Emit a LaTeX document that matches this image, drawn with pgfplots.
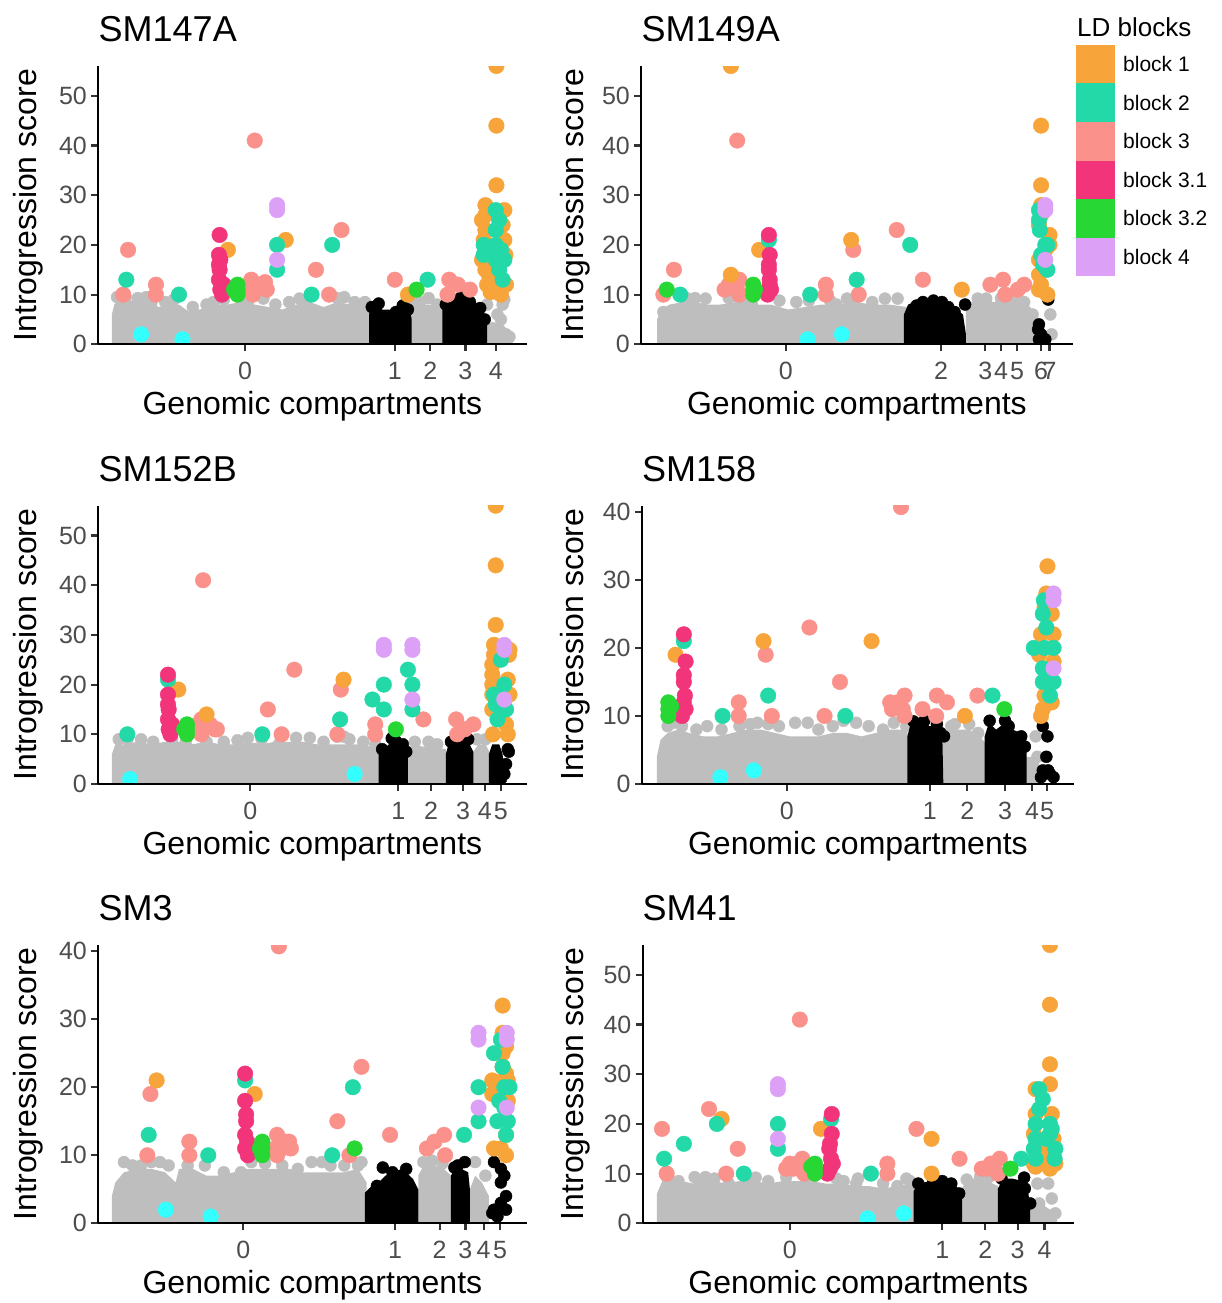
\documentclass[border=0pt]{standalone}
\usepackage{fontspec}
\setmainfont{Liberation Sans}
\usepackage{pgfplots}
\pgfplotsset{compat=1.18}

\definecolor{cB1}{RGB}{247,164,58}
\definecolor{cB2}{RGB}{36,217,168}
\definecolor{cB3}{RGB}{250,145,138}
\definecolor{cB31}{RGB}{242,52,123}
\definecolor{cB32}{RGB}{39,216,53}
\definecolor{cB4}{RGB}{221,160,247}
\definecolor{cCy}{RGB}{51,255,255}
\definecolor{cGray}{RGB}{190,190,190}
\definecolor{tickgray}{RGB}{77,77,77}

\newcommand\tickfont{\fontsize{25}{30}\selectfont}
\newcommand\labfont{\fontsize{32}{38}\selectfont}
\newcommand\titfont{\fontsize{36}{42}\selectfont}
\newcommand\legfont{\fontsize{21}{25}\selectfont}
\newcommand\legtfont{\fontsize{26}{30}\selectfont}

\pgfplotsset{
  panel/.style={scale only axis, anchor=south west, height=278.3pt, ymin=0,
    axis x line=bottom, axis y line=left, axis line style={-, line width=2.2pt, black},
    tick align=outside, major tick length=7pt,
    tick style={line width=2.2pt, color=black!80},
    ticklabel style={font=\tickfont, text=tickgray},
    xticklabel style={inner sep=0pt, yshift=-11pt},
    yticklabel style={inner sep=0pt, xshift=-4pt},
    /pgf/number format/assume math mode=true,
    axis on top, clip=true, clip marker paths=true},
  b1/.style={only marks, mark=*, mark size=7.8pt, color=cB1},
  b2/.style={only marks, mark=*, mark size=7.8pt, color=cB2},
  b3/.style={only marks, mark=*, mark size=7.8pt, color=cB3},
  b31/.style={only marks, mark=*, mark size=7.8pt, color=cB31},
  b32/.style={only marks, mark=*, mark size=7.8pt, color=cB32},
  b4/.style={only marks, mark=*, mark size=7.8pt, color=cB4},
  cy/.style={only marks, mark=*, mark size=7.8pt, color=cCy},
  gpt/.style={only marks, mark=*, mark size=6pt, color=cGray},
  kpt/.style={only marks, mark=*, mark size=6pt, color=black},
  garea/.style={draw=none, fill=cGray, mark=none},
  karea/.style={draw=none, fill=black, mark=none},
}

\begin{document}
\begin{tikzpicture}
\useasboundingbox (0pt,0pt) rectangle (1221pt,-1303pt);

% ---------------- SM147A ----------------
\begin{axis}[panel, at={(98.1pt,-344.3pt)}, width=428.6pt,
  xmin=285, xmax=1530, ymax=56, ytick={0,10,20,30,40,50},
  xtick={712,1147,1250,1352,1440}, xticklabels={0,1,2,3,4}]
\addplot[garea] coordinates {(325,0)(325,6)(332,8)(345,9)(370,9)(400,8.5)(430,9)(460,7.5)(490,8)(520,8)(550,6.5)(580,7)(620,8)(660,8)(700,8.5)(740,8)(780,7.5)(820,7)(860,8)(900,8.5)(940,7.5)(980,8.5)(1020,8)(1060,8)(1078,7)(1078,0)} -- cycle;
\addplot[garea] coordinates {(1190,0)(1190,6)(1200,8)(1230,8)(1260,8)(1292,7)(1292,0)} -- cycle;
\addplot[garea] coordinates {(1390,0)(1390,2)(1400,3.5)(1430,4.5)(1460,4)(1480,2.5)(1490,1)(1490,0)} -- cycle;
\addplot[gpt] coordinates {(340,9.5)(365,9.5)(400,9.3)(425,9.5)(440,8.5)(480,8.5)(505,9)(560,7.5)(600,8)(620,8.5)(650,9)(700,9)(720,8.5)(765,9.2)(800,8)(840,8.5)(870,9.2)(885,8.5)(950,6)(980,9.3)(1000,9.5)(1030,8.5)(1060,8.5)(1200,8)(1220,8.5)(1245,9.3)(1270,8)(1415,8)(1460,8)(1465,9)(1445,6)(1470,2)(1480,1.5)(1455,5)};
\addplot[karea] coordinates {(1072,0)(1072,6)(1080,7.5)(1095,8)(1110,7)(1130,7)(1150,6.5)(1170,7)(1190,7)(1196,5)(1196,0)} -- cycle;
\addplot[karea] coordinates {(1285,0)(1285,7)(1295,8.5)(1310,9)(1330,9)(1350,8.8)(1370,9)(1390,8)(1405,6.5)(1415,4)(1415,0)} -- cycle;
\addplot[kpt] coordinates {(1080,7.5)(1100,8.2)(1170,7.8)(1185,7)(1150,6.5)(1310,9.3)(1340,9.5)(1365,8.5)(1395,7.3)(1408,5)(1295,8)};
\addplot[b3] coordinates {(372,19)(358,10)(453,12)(453,10)(740,41)(918,15)(992,23)(956,10)(1147,13)(1305,13)(1300,10)(1330,12)(1365,11)(730,13)(732,11)(735,10)(760,12)(775,11)(748,12)(770,12.5)};
\addplot[b1] coordinates {(662,19)(830,21)(1185,10)(1442,56)(1442,44)(1442,32)(1410,28)(1410,26)(1400,25)(1410,23)(1405,21)(1410,19)(1400,17)(1410,15)(1415,12)(1425,10.5)(1465,27)(1465,21)(1468,18)(1470,12)(1455,10)(1440,11)(1430,13)(1420,14)(1460,24)};
\addplot[b2] coordinates {(367,13)(520,10)(805,20)(805,15)(965,20)(905,10)(1242,13)(1405,20)(1405,18)(1440,27)(1450,25)(1440,23)(1440,20)(1455,19)(1440,17)(1450,15)(1460,13)(1465,17)(1420,19)};
\addplot[b31] coordinates {(638,22)(636,18)(636,16)(638,15)(636,13)(640,11)(645,10)(650,12)(640,17)};
\addplot[b32] coordinates {(690,12)(690,11)(690,10)(680,11)(1210,11)};
\addplot[b4] coordinates {(805,28)(805,27)(805,17)};
\addplot[cy] coordinates {(410,2)(530,1)};
\end{axis}

% ---------------- SM149A ----------------
\begin{axis}[panel, at={(641pt,-344.3pt)}, width=431.7pt,
  xmin=192, xmax=1215, ymax=56, ytick={0,10,20,30,40,50},
  xtick={535,903,1008,1045,1083,1140,1160}, xticklabels={0,2,3,4,5,6,7}]
\addplot[garea] coordinates {(230,0)(230,5)(240,7)(260,8)(290,8.5)(320,8.5)(350,8)(380,8)(420,8.5)(460,8)(500,8)(540,7)(580,7.5)(620,8)(660,8)(700,8.5)(740,8)(780,8)(822,7.5)(822,0)} -- cycle;
\addplot[garea] coordinates {(962,0)(962,7)(975,8.5)(1000,8.8)(1030,8.5)(1060,9)(1090,8.5)(1115,7.5)(1125,4)(1125,0)} -- cycle;
\addplot[gpt] coordinates {(245,6.5)(300,9.3)(320,9.3)(345,9.2)(400,9.3)(420,9.5)(440,8.5)(520,8.8)(560,8.5)(590,8.8)(640,8.8)(680,9.2)(700,9.2)(740,8.5)(770,9.2)(800,9.2)(655,8)(455,8)(990,9.2)(1010,9.2)(1045,9.2)(1075,9.3)(1100,8.5)(1120,6)(1162,6)(1165,2)};
\addplot[karea] coordinates {(815,0)(815,6)(825,8)(840,8.5)(860,8.8)(880,8.5)(900,8.8)(920,8)(940,7)(955,6)(962,2)(962,0)} -- cycle;
\addplot[kpt] coordinates {(860,8.5)(885,8.8)(905,8.5)(935,6.5)(960,8)(920,7.5)(845,7.8)(1135,4)(1133,3)(1135,1)(1150,1)(1157,9)(1140,2)};
\addplot[b3] coordinates {(420,41)(270,15)(245,10)(390,11)(400,12)(425,13)(420,11)(425,10)(415,12)(630,12)(630,10)(695,19)(708,10)(798,23)(860,13)(1020,12)(1050,13)(1055,10)(1085,11)(1100,12)};
\addplot[b1] coordinates {(405,56)(1140,44)(1140,32)(472,19)(405,14)(690,21)(952,11)(1140,28)(1140,26)(1135,24)(1160,22)(1160,20)(1135,17)(1135,14)(1140,12)(1135,11)(1155,10)(1150,19)};
\addplot[b2] coordinates {(285,10)(495,21)(593,10)(703,13)(830,20)(1135,27)(1135,25)(1137,23)(1150,20)(1155,20)(1140,18)(1145,16)(1155,15)};
\addplot[b31] coordinates {(495,22)(497,18)(495,16)(495,15)(497,13)(497,12)(495,11)(492,10)(500,11)};
\addplot[b32] coordinates {(253,11)(458,12)(458,11)(458,10)(462,11)};
\addplot[b4] coordinates {(1150,28)(1150,27)(1150,17)};
\addplot[cy] coordinates {(587,1)(668,2)};
\end{axis}

% ---------------- SM152B ----------------
\begin{axis}[panel, at={(98.1pt,-784pt)}, width=428.6pt,
  xmin=285, xmax=1530, ymax=56, ytick={0,10,20,30,40,50},
  xtick={727,1157,1252,1345,1408,1455}, xticklabels={0,1,2,3,4,5}]
\addplot[garea] coordinates {(325,0)(325,6)(335,8)(360,8)(400,8.5)(440,8)(480,8.5)(520,8.5)(560,8)(600,8.5)(640,8)(680,8)(720,8.5)(760,8)(800,8.5)(840,8.5)(880,8.5)(920,8)(960,8)(1000,8)(1040,8)(1080,7.5)(1105,6)(1105,0)} -- cycle;
\addplot[garea] coordinates {(1185,0)(1185,7)(1200,8)(1230,7.5)(1260,7.5)(1295,7)(1295,0)} -- cycle;
\addplot[garea] coordinates {(1370,0)(1370,6)(1390,8)(1410,8)(1425,6)(1425,0)} -- cycle;
\addplot[gpt] coordinates {(345,9)(370,9)(410,9)(445,8.5)(500,9)(540,8.5)(600,8.5)(650,8.5)(690,8.8)(720,9.3)(760,9)(810,8)(860,9.3)(900,9.3)(940,8.5)(980,9.5)(1000,9.5)(1015,9)(1055,8.5)(1090,8)(1205,8.5)(1245,8.5)(1270,8)(1385,9)(1410,9)};
\addplot[karea] coordinates {(1100,0)(1100,6)(1115,7)(1130,8)(1145,8.5)(1160,8)(1175,7.5)(1185,6)(1185,0)} -- cycle;
\addplot[karea] coordinates {(1295,0)(1295,6)(1305,8.5)(1320,8.5)(1340,8.8)(1360,8.5)(1375,6.5)(1375,0)} -- cycle;
\addplot[karea] coordinates {(1420,0)(1420,6)(1430,8)(1450,8)(1460,6)(1465,2)(1465,0)} -- cycle;
\addplot[kpt] coordinates {(1138,9.2)(1148,8.8)(1170,8)(1110,7)(1180,6.5)(1325,9)(1340,9.5)(1360,9)(1310,8.5)(1475,7)(1478,6.5)(1470,4)(1465,2)(1455,1)(1448,3)};
\addplot[b3] coordinates {(590,41)(855,23)(778,15)(818,10)(990,19)(980,10)(1090,12)(1090,10)(1230,13)(1325,13)(1328,10)(1350,11)(1375,12)(585,13)(580,11)(585,10)(600,12)(610,12)(625,11)(630,11)(575,12)};
\addplot[b1] coordinates {(518,19)(600,14)(998,21)(1440,56)(1440,44)(1440,32)(1435,28)(1435,26)(1430,24)(1430,22)(1430,20)(1430,18)(1430,15)(1432,10)(1475,10)(1480,27)(1478,26)(1475,21)(1480,18)(1470,12)};
\addplot[b2] coordinates {(370,10)(488,21)(762,10)(988,13)(1082,17)(1115,20)(1115,15)(1185,23)(1198,20)(1198,15)(1435,18)(1440,16)(1445,13)(1455,25)(1465,20)(1470,15)};
\addplot[b31] coordinates {(488,22)(488,18)(488,16)(490,15)(488,13)(490,11)(495,10)(500,12)};
\addplot[b32] coordinates {(543,12)(543,11)(543,10)(535,11)(1150,11)};
\addplot[b4] coordinates {(1115,28)(1115,27)(1198,28)(1198,27)(1198,17)(1465,28)(1465,27)(1465,17)};
\addplot[cy] coordinates {(378,1)(1030,2)};
\end{axis}

% ---------------- SM158 ----------------
\begin{axis}[panel, at={(641.8pt,-784pt)}, width=432.2pt,
  xmin=228, xmax=1432, ymax=40.9, ytick={0,10,20,30,40},
  xtick={632,1030,1135,1240,1315,1357}, xticklabels={0,1,2,3,4,5}]
\addplot[garea] coordinates {(270,0)(270,4)(280,6.5)(300,7.5)(330,8)(360,7.5)(400,7)(440,7)(480,7.5)(520,8)(560,8)(600,7.5)(640,7)(680,7)(720,7)(760,7.5)(800,7.5)(840,7)(880,7.5)(920,8)(960,8)(975,7)(975,0)} -- cycle;
\addplot[garea] coordinates {(1065,0)(1065,7)(1080,8)(1110,8)(1140,8)(1170,7)(1185,6)(1185,0)} -- cycle;
\addplot[garea] coordinates {(1283,0)(1283,3)(1300,4)(1320,4)(1335,3)(1335,0)} -- cycle;
\addplot[gpt] coordinates {(300,8.5)(315,9)(340,8.5)(380,8)(410,8.5)(450,8)(500,8.5)(530,8.8)(550,9)(580,8.8)(610,8.5)(655,9)(690,9)(720,8)(760,8.5)(790,9.3)(825,9)(860,8.5)(900,8)(930,9)(965,8.5)(1100,8.8)(1140,8.8)(1090,8.5)(1165,7.5)(1325,7)(1330,4)};
\addplot[karea] coordinates {(968,0)(968,7)(975,8.5)(990,9)(1010,9.3)(1030,8.5)(1045,8.5)(1065,7.5)(1068,0)} -- cycle;
\addplot[karea] coordinates {(1183,0)(1183,7)(1195,9)(1215,8)(1240,9)(1260,8)(1285,7.5)(1300,6)(1300,0)} -- cycle;
\addplot[kpt] coordinates {(985,9.2)(1015,9.3)(1050,8.8)(1060,7.5)(1070,7)(1197,9.3)(1240,9.3)(1250,8.5)(1285,7)(1295,5.5)(1345,8.5)(1358,7)(1355,4)(1345,2)(1375,1)(1340,1)(1360,2)(1365,1.5)};
\addplot[b3] coordinates {(950,40.7)(695,23)(573,19)(780,15)(498,12)(498,10)(590,10)(737,10)(925,11)(940,12)(960,13)(955,11)(960,10)(920,12)(1010,11)(1050,13)(1048,10)(1078,12)(1163,13)};
\addplot[b1] coordinates {(567,21)(322,19)(868,21)(1128,10)(1358,32)(1355,28)(1340,22)(1335,19)(1375,18)(1350,26)(1370,25)(1350,13)(1345,11)(1340,10)(1370,12)(1375,22)};
\addplot[b2] coordinates {(345,21)(453,10)(580,13)(795,10)(1205,13)(1348,27)(1345,25)(1355,23)(1320,20)(1375,20)(1350,20)(1345,17)(1345,15)(1375,15)(1365,13)(1360,16)};
\addplot[b31] coordinates {(345,22)(350,18)(345,16)(345,15)(348,13)(345,12)(350,11)(340,10)};
\addplot[b32] coordinates {(302,12)(302,11)(302,10)(310,11.4)(1238,11)};
\addplot[b4] coordinates {(1375,28)(1375,27)(1375,17)};
\addplot[cy] coordinates {(447,1)(540,2)};
\end{axis}

% ---------------- SM3 ----------------
\begin{axis}[panel, at={(98.1pt,-1223.3pt)}, width=428.6pt,
  xmin=285, xmax=1530, ymax=40.9, ytick={0,10,20,30,40},
  xtick={707,1148,1277,1352,1405,1453}, xticklabels={0,1,2,3,4,5}]
\addplot[garea] coordinates {(325,0)(325,4)(335,6)(360,7.5)(400,8)(440,8)(480,7.5)(510,6)(520,8)(560,8)(600,7)(640,7)(680,7.5)(720,8)(760,8)(800,8)(840,8)(880,7.5)(920,7.5)(960,7.5)(1000,7.5)(1040,8)(1065,6)(1065,0)} -- cycle;
\addplot[garea] coordinates {(1215,0)(1215,7)(1230,8.5)(1260,8.5)(1290,8)(1310,7)(1310,0)} -- cycle;
\addplot[garea] coordinates {(1365,0)(1365,5)(1380,7)(1400,6)(1420,4)(1420,0)} -- cycle;
\addplot[gpt] coordinates {(360,9)(385,8.5)(410,8.5)(440,9)(465,9)(490,8.5)(545,8.5)(595,8.5)(650,7.5)(700,7.5)(730,9)(770,8.8)(820,8.5)(865,8)(905,9)(935,9)(960,8.5)(1000,8.5)(1050,9)(1040,8.5)(1230,9)(1255,9.2)(1285,8.8)(1380,9)(1410,7)};
\addplot[karea] coordinates {(1060,0)(1060,4.5)(1080,5.5)(1100,6)(1120,7)(1140,7.5)(1160,7.5)(1180,7.5)(1200,6.5)(1215,5)(1215,0)} -- cycle;
\addplot[karea] coordinates {(1310,0)(1310,7)(1320,8)(1340,8)(1360,7.5)(1365,5)(1365,0)} -- cycle;
\addplot[kpt] coordinates {(1112,8.2)(1140,7.5)(1180,8)(1165,7)(1095,5.5)(1350,9)(1330,8.5)(1320,8.2)(1435,9)(1455,8)(1465,7)(1455,6)(1470,4)(1455,3)(1435,2)(1470,2)(1445,1)(1430,1.5)};
\addplot[b3] coordinates {(810,40.7)(1050,23)(437,19)(428,10)(550,12)(550,10)(980,15)(1015,10)(1133,13)(1240,11)(1262,12)(1290,13)(1293,10)(805,13)(800,11)(805,10)(830,12)(845,11)(840,12)(820,11)};
\addplot[b1] coordinates {(455,21)(740,19)(1460,32)(1460,28)(1470,26)(1460,25)(1430,21)(1430,19)(1475,21)(1475,18)(1470,13)(1435,11)(1470,10)(1455,11)(1470,22)(1460,23)};
\addplot[b2] coordinates {(432,13)(605,10)(712,21)(965,10)(1025,20)(1348,13)(1390,20)(1390,15)(1435,25)(1455,27)(1460,23)(1465,20)(1480,20)(1450,18)(1445,15)(1470,13)(1465,17)(1475,15)};
\addplot[b31] coordinates {(712,22)(712,18)(715,16)(715,15)(712,13)(712,11)(720,10)(718,12)};
\addplot[b32] coordinates {(762,12)(762,11)(762,10)(755,11)(1030,11)};
\addplot[b4] coordinates {(1390,28)(1390,27)(1390,17)(1472,28)(1472,27)(1472,17)};
\addplot[cy] coordinates {(482,2)(612,1)};
\end{axis}

% ---------------- SM41 ----------------
\begin{axis}[panel, at={(642.6pt,-1223.3pt)}, width=431.4pt,
  xmin=230, xmax=1432, ymax=56, ytick={0,10,20,30,40,50},
  xtick={640,1065,1185,1275,1350}, xticklabels={0,1,2,3,4}]
\addplot[garea] coordinates {(270,0)(270,6)(285,8.5)(310,9)(340,8.5)(370,8)(400,9)(430,8.5)(460,8)(500,8.5)(540,8.5)(580,8)(620,8.5)(660,8.5)(700,8.5)(740,8)(780,8)(820,7.5)(860,7.5)(900,7)(940,7.5)(990,8)(990,0)} -- cycle;
\addplot[garea] coordinates {(1120,0)(1120,7)(1135,9)(1160,9)(1190,8.5)(1220,7.5)(1220,0)} -- cycle;
\addplot[garea] coordinates {(1310,0)(1310,3)(1340,4)(1360,3)(1385,2)(1385,0)} -- cycle;
\addplot[gpt] coordinates {(300,9)(330,8.5)(375,9.3)(405,9.3)(430,9)(470,8)(520,9.2)(545,9.2)(580,8.5)(630,9.3)(700,8.5)(770,9)(790,8.5)(825,8)(830,9)(900,8)(940,7.5)(965,9)(975,8.5)(1133,8.8)(1170,9.3)(1195,9.3)(1330,8)(1360,8)(1335,4)(1345,2)(1380,2)(1325,1.5)(1370,5)};
\addplot[karea] coordinates {(985,0)(985,6.5)(1000,8)(1030,8.5)(1060,8.5)(1090,8.5)(1110,7)(1120,5)(1120,0)} -- cycle;
\addplot[karea] coordinates {(1220,0)(1220,7)(1235,9)(1260,9)(1290,8.5)(1305,6)(1310,3)(1310,0)} -- cycle;
\addplot[kpt] coordinates {(998,8)(1040,8.5)(1065,8.5)(1090,8)(1112,6)(1230,9)(1293,9.2)(1295,7)(1310,4)};
\addplot[b3] coordinates {(668,41)(415,23)(284,19)(297,10)(495,15)(463,10)(993,19)(1113,13)(912,12)(912,10)(640,12)(650,11)(675,13)(680,10)(630,11)(660,12)(690,11.4)(1175,11)(1200,12)(1225,13)(1220,10)(1190,11)};
\addplot[b1] coordinates {(450,21)(727,19)(1035,17)(1035,10)(1365,56)(1365,44)(1365,32)(1325,27)(1365,28)(1325,22)(1320,18)(1330,15)(1320,12)(1325,11.4)(1365,11)(1380,12)(1375,17)(1370,22)(1360,14)(1345,13)};
\addplot[b2] coordinates {(290,13)(345,16)(437,20)(512,10)(607,20)(607,15)(755,21)(866,10)(1285,13)(1325,20)(1325,17)(1320,15)(1325,13)(1335,27)(1345,25)(1335,23)(1365,20)(1370,19)(1380,15)(1378,13)(1355,17)(1365,18)};
\addplot[b31] coordinates {(757,22)(757,18)(752,16)(750,15)(755,13)(752,11)(745,10)(760,12)};
\addplot[b32] coordinates {(710,12)(710,11)(710,10)(700,11.4)(1255,11)};
\addplot[b4] coordinates {(607,28)(607,27)(607,17)};
\addplot[cy] coordinates {(857,1)(958,2)};
\end{axis}

% ---------------- titles and axis labels ----------------
\foreach \t/\x/\y in {SM147A/98.5/41.5, SM149A/641.5/41.5, SM152B/98.5/481.5, SM158/642/481.5, SM3/98.5/920.5, SM41/642.5/920.5}
  \node[anchor=base west, inner sep=0pt, font=\titfont] at (\x pt,-\y pt) {\t};
\foreach \x/\y in {312.4/414, 856.9/414, 312.4/854, 857.9/854, 312.4/1293, 858.3/1293}
  \node[anchor=base, inner sep=0pt, font=\labfont] at (\x pt,-\y pt) {Genomic compartments};
\foreach \x/\y in {36/205.2, 583/205.2, 36/644.6, 583/644.6, 36/1084, 583/1084}
  \node[anchor=base, rotate=90, inner sep=0pt, font=\labfont] at (\x pt,-\y pt) {Introgression score};

% ---------------- legend ----------------
\node[anchor=base west, inner sep=0pt, font=\legtfont] at (1077pt,-36.7pt) {LD blocks};
\foreach \c/\l [count=\i from 0] in {cB1/block 1, cB2/block 2, cB3/block 3, cB31/block 3.1, cB32/block 3.2, cB4/block 4}{
  \fill[\c] (1076pt,{-45pt-\i*38.5pt}) rectangle (1115pt,{-83.5pt-\i*38.5pt});
  \node[anchor=west, inner sep=0pt, font=\legfont] at (1123pt,{-64.25pt-\i*38.5pt}) {\l};
}
\end{tikzpicture}
\end{document}
